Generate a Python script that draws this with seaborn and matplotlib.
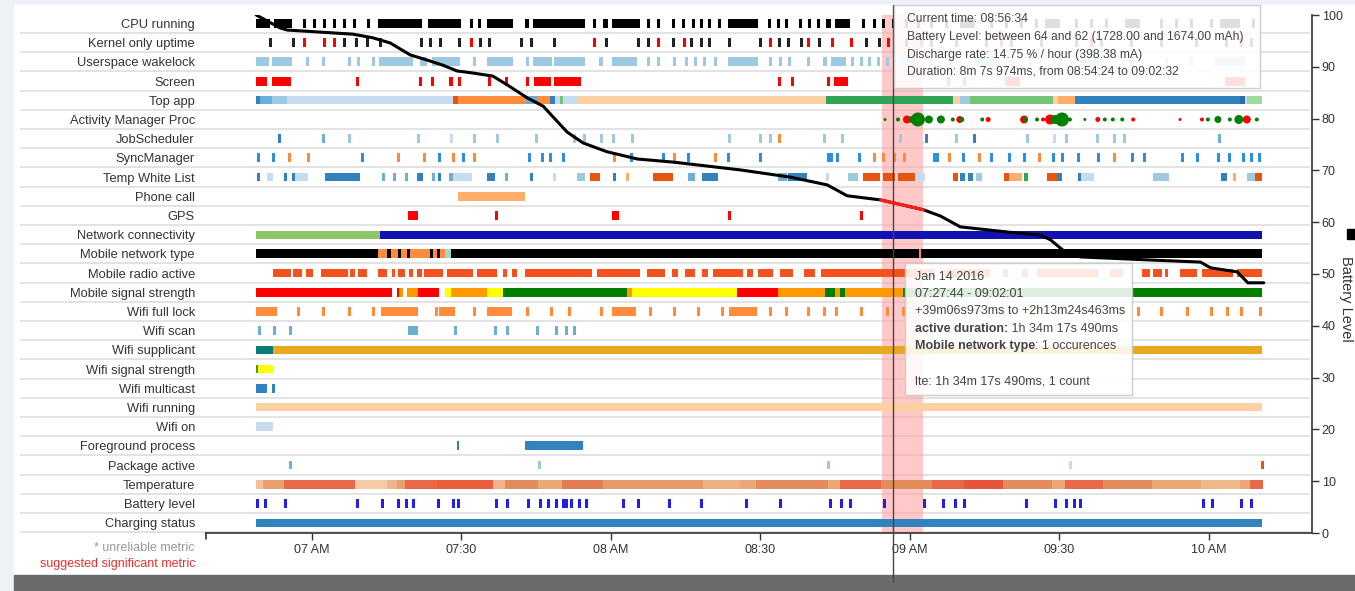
import numpy as np
import pandas as pd
import seaborn as sns
import matplotlib.pyplot as plt
from matplotlib.patches import Rectangle

W, H = 1355, 591
sns.set_style("white")
plt.rcParams["font.family"] = ["Liberation Sans", "DejaVu Sans"]

# all times are minutes after 07:00
row_labels = ["CPU running", "Kernel only uptime", "Userspace wakelock", "Screen", "Top app",
              "Activity Manager Proc", "JobScheduler", "SyncManager", "Temp White List", "Phone call",
              "GPS", "Network connectivity", "Mobile network type", "Mobile radio active",
              "Mobile signal strength", "Wifi full lock", "Wifi scan", "Wifi supplicant",
              "Wifi signal strength", "Wifi multicast", "Wifi running", "Wifi on",
              "Foreground process", "Package active", "Temperature", "Battery level", "Charging status"]
tick_times = [0, 30, 60, 90, 120, 150, 180]
tick_names = ["07 AM", "07:30", "08 AM", "08:30", "09 AM", "09:30", "10 AM"]
t_start, t_end = -11.2, 190.6

batt_t = [-11.2, -6.4, -5.0, 8.2, 12.2, 15.7, 19.7, 23.1, 26.3, 29.1, 32.3, 36.3, 39.2, 43.2,
          46.4, 48.4, 51.2, 54.4, 59.2, 65.3, 72.5, 85.9, 96.0, 103.4, 107.4, 114.1, 122.7,
          126.1, 130.1, 139.6, 146.2, 148.2, 151.2, 154.2, 168.3, 178.3, 180.3, 185.7, 187.8, 191.0]
batt_lvl = [100, 97.5, 97.1, 96.3, 95.6, 94.6, 92.3, 91.3, 90.3, 89.2, 88.8, 88.2, 86.5, 84.0,
            82.4, 80.3, 77.4, 75.3, 73.6, 72.2, 71.6, 70.1, 68.7, 67.2, 65.1, 64.3, 62.4,
            61.2, 59.1, 58.1, 57.5, 56.6, 54.2, 53.3, 52.7, 52.3, 51.2, 50.4, 48.3, 48.3]
sel_start, sel_end = 114.4, 122.53
cursor_t = 116.57

cpu_blocks = [(-11.2, -8.4), (-7.6, -4.0), (13.2, 22.1), (23.3, 29.9), (35.1, 40.3), (42.7, 43.5),
              (44.4, 54.8), (58.4, 59.4), (60.2, 65.8), (83.5, 89.5), (103.2, 104.2), (105.0, 108.0),
              (130.0, 133.1), (147.1, 150.1), (163.2, 166.2), (182.2, 186.2)]
cpu_ticks = [-1.8, 0.2, 2.2, 4.2, 6.2, 8.2, 11.0, 31.7, 33.3, 56.4, 67.2, 69.2, 72.2, 74.3, 76.3,
             77.9, 79.5, 81.5, 91.5, 93.3, 94.9, 97.7, 99.5, 101.3, 110.4, 112.6, 114.4, 116.4,
             119.0, 121.4, 124.0, 127.0, 136.1, 139.1, 142.1, 145.1, 153.1, 156.1, 159.1, 170.2,
             173.2, 176.2, 180.2, 188.6]
kernel_black = [-8.6, -4.0, 6.2, 8.6, 10.8, 13.4, 21.7, 23.5, 25.5, 29.3, 33.5, 35.3, 41.7, 43.7,
                48.4, 58.8, 65.2, 67.2, 72.2, 75.9, 77.9, 79.5, 83.5, 89.7, 93.5, 95.3, 97.9, 101.5,
                111.0, 113.6, 119.0, 124.0, 129.0, 135.1, 140.1, 146.1, 153.1, 158.1, 164.2, 170.2,
                177.2, 183.2, 188.2]
kernel_red = [-1.8, 2.2, 4.2, 31.7, 56.4, 69.2, 74.5, 91.7, 99.3, 104.2, 108.0, 115.4, 122.0,
              138.1, 156.1, 186.2]
wake_blocks = [(-11.2, -8.6), (-8.0, -4.0), (13.4, 20.3), (21.7, 23.1), (24.1, 29.7), (35.1, 40.3),
               (42.9, 43.5), (44.4, 48.2), (48.6, 54.8), (57.6, 58.4), (60.2, 65.2), (83.5, 89.5),
               (102.5, 103.4), (104.2, 107.2), (118.0, 121.0), (133.1, 138.1), (154.1, 158.1),
               (181.2, 187.2)]
wake_ticks = [-1.2, 2.0, 7.2, 9.0, 12.0, 32.3, 67.2, 69.2, 72.4, 74.9, 76.7, 78.5, 80.7, 91.7,
              93.7, 95.5, 99.3, 108.2, 110.0, 111.6, 113.4, 115.2, 124.0, 128.0, 144.1, 150.1,
              164.2, 171.2, 176.2]
screen_blocks = [(-11.2, -9.0), (-8.0, -4.2), (27.5, 28.3), (42.9, 43.5), (44.6, 48.0), (48.6, 54.0),
                 (104.8, 107.6), (139.1, 142.1), (183.2, 187.2)]
screen_ticks = [8.8, 21.5, 23.9, 29.3, 35.3, 38.7, 93.5, 96.1, 103.4, 127.4, 130.6]

topapp_spans = [(-11.2, -10.4), (-10.4, -8.0), (-8.0, -5.0), (-5.0, 28.3), (28.3, 29.3), (29.3, 42.9),
                (42.9, 45.4), (45.4, 47.8), (47.8, 48.8), (48.8, 49.8), (49.8, 50.4), (50.4, 53.2),
                (53.2, 103.2), (103.2, 128.6), (128.6, 130.0), (130.0, 132.0), (132.0, 148.7),
                (148.7, 149.7), (149.7, 153.1), (153.1, 186.2), (186.2, 187.2), (187.2, 187.6),
                (187.6, 190.6)]
topapp_colors = ["#3182bd", "#6baed6", "#9ecae1", "#c6dbef", "#e6550d", "#fd8d3c", "#6baed6",
                 "#fd8d3c", "#3182bd", "#c6dbef", "#74c476", "#c6dbef", "#fdd0a2", "#31a354",
                 "#fdd0a2", "#9ecae1", "#74c476", "#fdd0a2", "#fdae6b", "#3182bd", "#2b6fa8",
                 "#c6dbef", "#a1d99b"]

amp_t = [115.0, 117.6, 119.4, 120.4, 121.6, 123.8, 126.2, 128.6, 130.0, 130.4, 134.5, 135.7,
         142.9, 143.1, 145.5, 146.7, 148.1, 149.1, 150.5, 152.1, 155.1, 157.7, 159.1, 160.7,
         162.6, 164.8, 174.2, 178.6, 179.8, 181.8, 184.2, 186.0, 187.6, 189.6]
amp_kind = ["g", "g", "r", "g", "g", "g", "g", "g", "r", "g", "g", "r", "r", "g", "g", "r", "r",
            "g", "g", "g", "g", "r", "g", "g", "g", "r", "r", "r", "g", "g", "g", "g", "r", "g"]
amp_radius = [1.5, 2, 4, 3.5, 7, 4, 4, 2, 3.5, 2.5, 2, 2.5, 4, 2.5, 2, 2, 5, 4.5, 7, 2, 1.5,
              2.5, 2, 2, 2, 2, 1.5, 2, 2, 3.5, 2, 4.5, 4, 2]

job_times = [-6.8, 2.0, 7.2, 21.1, 27.7, 32.3, 36.9, 44.8, 52.4, 54.4, 57.8, 60.2, 64.0, 83.5,
             89.7, 91.7, 93.5, 102.5, 106.2, 117.8, 123.0, 129.0, 132.7, 143.3, 148.7, 151.1,
             157.3, 160.7, 162.8, 181.8]
job_colors = ["#3182bd", "#6baed6", "#9ecae1", "#9ecae1", "#c6dbef", "#9ecae1", "#9ecae1",
              "#9ecae1", "#9ecae1", "#9ecae1", "#9ecae1", "#9ecae1", "#9ecae1", "#9ecae1",
              "#9ecae1", "#9ecae1", "#fd8d3c", "#9ecae1", "#9ecae1", "#9ecae1", "#3182bd",
              "#9ecae1", "#3182bd", "#9ecae1", "#c6dbef", "#9ecae1", "#9ecae1", "#9ecae1",
              "#9ecae1", "#6baed6"]

sync_blue = [-11.0, -8.0, 9.8, 25.3, 30.1, 43.3, 46.0, 47.6, 50.2, 63.8, 70.2, 75.3, 83.3, 89.7,
             105.2, 109.6, 130.4, 136.1, 139.7, 142.7, 148.5, 150.3, 153.5, 157.5, 164.4, 166.8,
             174.4, 177.4, 181.6, 183.8, 186.6, 188.2, 189.8]
sync_blue_blocks = [(103.4, 104.6), (124.6, 125.8)]
sync_orange = [-4.8, -1.0, 17.1, 22.3, 28.1, 32.3, 60.4, 72.4, 80.7, 112.6, 114.4, 116.6, 118.6,
               127.6, 133.7, 145.7, 160.7]

twl_spans = [(-11.0, -10.4), (-9.0, -7.8), (-5.6, -5.0), (-4.0, -3.4), (-3.4, -0.8), (2.6, 9.6),
             (14.0, 14.6), (16.3, 16.9), (18.7, 19.3), (21.1, 22.3), (24.1, 24.7), (25.3, 25.9),
             (27.5, 28.3), (28.3, 32.1), (35.1, 36.7), (38.7, 39.3), (43.7, 44.3), (48.4, 49.0),
             (53.2, 54.8), (55.8, 57.8), (60.4, 61.0), (63.0, 63.6), (68.4, 72.4), (75.5, 76.9),
             (78.3, 81.5), (93.5, 95.3), (95.5, 99.3), (103.2, 103.8), (107.6, 109.6),
             (110.6, 114.0), (114.6, 117.0), (117.6, 121.0), (121.0, 123.0), (128.6, 129.6),
             (130.0, 131.0), (131.6, 132.6), (133.2, 134.4), (138.9, 139.9), (139.9, 142.5),
             (142.9, 143.7), (147.5, 149.5), (149.5, 150.5), (153.7, 154.3), (154.3, 157.0),
             (168.7, 171.9), (182.4, 183.6), (184.8, 185.4), (187.6, 189.2), (189.2, 190.6)]
twl_colors = ["#3182bd", "#c6dbef", "#3182bd", "#3182bd", "#c6dbef", "#3182bd", "#6baed6",
              "#6baed6", "#6baed6", "#3182bd", "#6baed6", "#3182bd", "#6baed6", "#c6dbef",
              "#3182bd", "#6baed6", "#3182bd", "#c6dbef", "#9ecae1", "#e6550d", "#3182bd",
              "#fdae6b", "#e6550d", "#6baed6", "#3182bd", "#6baed6", "#3182bd", "#c6dbef",
              "#9ecae1", "#e6550d", "#e6550d", "#e6550d", "#c6dbef", "#e6550d", "#3182bd",
              "#3182bd", "#9ecae1", "#e6550d", "#fdae6b", "#31a354", "#e6550d", "#3182bd",
              "#3182bd", "#c6dbef", "#9ecae1", "#3182bd", "#fdae6b", "#9ecae1", "#e6550d"]

phone_blocks = [(29.3, 42.7)]
gps_blocks = [(19.3, 21.3), (60.2, 61.6)]
gps_ticks = [36.7, 83.5, 110.0]

net_spans = [(-11.2, 13.6), (13.6, 190.6)]
net_colors = ["#8cc665", "#1212b0"]

mnt_spans = [(-11.2, 13.2), (13.2, 15.0), (15.0, 15.8), (15.8, 17.2), (17.2, 17.9), (17.9, 19.1),
             (19.1, 19.7), (19.7, 23.7), (23.7, 24.3), (24.3, 25.1), (25.1, 25.7), (25.7, 26.7),
             (26.7, 27.9), (27.9, 190.6), (121.8, 122.3)]
mnt_colors = ["black", "#fd8d3c", "black", "#fd8d3c", "black", "#fd8d3c", "black", "#fd8d3c",
              "black", "#fd8d3c", "black", "#fd8d3c", "#9fd8c8", "black", "#fd8d3c"]

radio_blocks = [(-7.8, -4.2), (-3.8, -2.0), (-1.2, 0.2), (1.8, 7.2), (7.6, 8.6), (9.2, 11.0),
                (13.2, 15.1), (16.1, 16.7), (17.3, 18.7), (19.5, 20.3), (21.1, 22.1), (22.5, 26.3),
                (27.1, 32.3), (33.1, 37.1), (38.3, 39.1), (40.1, 41.1), (42.7, 56.2), (57.2, 65.8),
                (67.2, 70.8), (72.2, 73.5), (74.9, 76.9), (78.3, 79.5), (80.5, 86.5), (87.3, 88.5),
                (89.5, 92.5), (93.9, 96.5), (98.7, 100.9), (102.2, 119.0), (119.0, 125.0),
                (127.0, 136.1), (138.7, 139.7), (142.5, 143.7), (145.5, 157.7), (160.1, 162.8),
                (166.6, 168.2), (168.8, 170.6), (171.2, 171.8), (174.2, 177.6), (178.6, 184.8),
                (185.6, 190.6)]

sig_spans = [(-11.2, 16.1), (17.1, 17.5), (17.5, 18.3), (19.1, 21.3), (21.3, 25.5), (26.7, 27.9),
             (27.9, 35.1), (35.1, 38.3), (38.3, 63.2), (63.2, 64.2), (64.2, 85.3), (85.3, 93.5),
             (93.5, 103.0), (103.0, 105.0), (105.0, 106.0), (106.0, 107.0), (107.0, 118.6),
             (118.6, 190.6)]
sig_colors = ["#ff0000", "#ff0000", "#ff9900", "#ff9900", "#ff0000", "#ffff00", "#ff9900", "#ffff00",
              "#008000", "#ff9900", "#ffff00", "#ff0000", "#ff9900", "#008000", "#ff9900", "#008000",
              "#ff9900", "#008000"]

wfl_blocks = [(-11.2, -7.0), (13.8, 21.3), (25.5, 28.7), (35.1, 40.1), (60.2, 65.0), (83.7, 89.3)]
wfl_ticks = [-3.0, 2.0, 7.2, 12.0, 24.7, 32.3, 42.9, 47.8, 51.4, 57.8, 67.6, 72.4, 77.3, 82.1,
             91.7, 94.9, 99.3, 102.5, 105.0, 110.0, 115.2, 118.4, 123.0, 128.0, 133.1, 138.1,
             144.1, 150.1, 156.1, 162.2, 165.6, 170.2, 175.4, 180.2, 183.4, 186.2, 190.0]
scan_blocks = [(19.3, 21.3)]
scan_ticks = [-10.8, -7.8, -4.6, 28.5, 36.5, 38.9, 44.9, 48.8, 50.8, 52.4]
supp_spans = [(-11.2, -7.8), (-7.8, 190.6)]
supp_colors = ["#0b7b73", "#e8a820"]
wsig_spans = [(-11.2, -10.8), (-10.8, -7.8)]
wsig_colors = ["#4a9a2a", "#ffff00"]
mcast_spans = [(-11.2, -9.0), (-8.0, -7.5)]
wrun_spans = [(-11.2, 190.6)]
won_spans = [(-11.2, -7.8)]
fg_spans = [(29.0, 29.5), (42.7, 54.4)]
pkg_times = [-4.6, 45.4, 103.4, 151.9, 190.4]
pkg_colors = ["#6baed6", "#9ecae1", "#9ecae1", "#c6dbef", "#e6550d"]

temp_spans = [(-11.2, -9.8), (-9.8, -5.6), (-5.6, 8.6), (8.6, 15.1), (15.1, 17.1), (17.1, 18.7),
              (18.7, 25.1), (25.1, 36.3), (36.3, 38.7), (38.7, 45.4), (45.4, 50.2), (50.2, 58.4),
              (58.4, 78.5), (78.5, 85.9), (85.9, 89.1), (89.1, 103.6), (103.6, 106.0), (106.0, 114.2),
              (114.2, 124.4), (124.4, 130.8), (130.8, 138.7), (138.7, 148.5), (148.5, 151.1),
              (151.1, 158.7), (158.7, 168.6), (168.6, 178.4), (178.4, 186.2), (186.2, 188.2),
              (188.2, 190.8)]
temp_colors = ["#f3c09a", "#e9a070", "#e8694a", "#f4cba5", "#eeb590", "#e9a071", "#e8694a",
               "#e85d3c", "#f0b48c", "#e38c5b", "#e9a874", "#e07b56", "#e49a6b", "#ebb283",
               "#eaa77a", "#e38c5b", "#eaa77a", "#e8694a", "#e38c5b", "#e8694a", "#e6553a",
               "#e38c5b", "#eaa77a", "#e8694a", "#e38c5b", "#e9a874", "#eeb98a", "#e9a874",
               "#e8694a"]
blevel_ticks = [-11.2, -9.6, -5.6, 8.8, 13.8, 17.1, 18.7, 20.1, 25.1, 28.1, 29.1, 36.7, 38.9, 43.1,
                45.6, 47.2, 48.8, 50.2, 50.8, 51.8, 53.4, 54.8, 62.2, 65.2, 71.4, 77.9, 86.9, 93.7,
                103.8, 106.0, 107.8, 114.6, 122.6, 126.4, 128.8, 130.6, 143.1, 148.9, 151.1, 152.7,
                153.9, 178.6, 180.4, 186.2, 188.2]
charge_spans = [(t_start, t_end)]

tip1 = ["Current time: 08:56:34",
        "Battery Level: between 64 and 62 (1728.00 and 1674.00 mAh)",
        "Discharge rate: 14.75 % / hour (398.38 mA)",
        "Duration: 8m 7s 974ms, from 08:54:24 to 09:02:32"]
tip2 = [("", "Jan 14 2016"), ("", "07:27:44 - 09:02:01"),
        ("", "+39m06s973ms to +2h13m24s463ms"),
        ("active duration:", " 1h 34m 17s 490ms"),
        ("Mobile network type", ": 1 occurences"),
        ("", ""), ("", "lte: 1h 34m 17s 490ms, 1 count")]


def fx(x):
    return x / W


def fy(y):
    return 1 - y / H


fig = plt.figure(figsize=(W / 100, H / 100), dpi=100, facecolor="#eef1f5")
fig.add_artist(Rectangle((fx(14), fy(575)), 1, 570 / H, color="white", zorder=-10))
fig.add_artist(Rectangle((fx(14), 0), 1, 16 / H, color="#6b6b6b", zorder=-10))

ax = fig.add_axes([fx(206), fy(533), (1312 - 206) / W, (533 - 15) / H])
ax.set_facecolor("none")

ax.hlines(np.arange(27) + 0.5, -58.6, 200.3, color="#dedede", lw=1.2, clip_on=False, zorder=0)
ax.axvspan(sel_start, sel_end, color="#ff9e9e", alpha=0.55, lw=0, zorder=0.5)


def ticks(times, w=0.6):
    return [(t, t + w) for t in times]


def draw(row, spans, colors, h=0.46):
    ax.broken_barh([(a, b - a) for a, b in spans], (row - h / 2, h),
                   facecolors=colors, linewidth=0, zorder=2)


draw(0, cpu_blocks + ticks(cpu_ticks), "black", 0.5)
draw(1, ticks(kernel_black), "#222222")
draw(1, ticks(kernel_red), "#ff0000")
draw(2, wake_blocks + ticks(wake_ticks), "#9ecae1")
draw(3, screen_blocks + ticks(screen_ticks), "#ff0000")
draw(4, topapp_spans, topapp_colors, 0.42)
draw(6, ticks(job_times), job_colors)
draw(7, ticks(sync_blue) + sync_blue_blocks, "#2e8fdd")
draw(7, ticks(sync_orange), "#fd8d3c")
draw(8, twl_spans, twl_colors)
draw(9, phone_blocks, "#fdae6b")
draw(10, gps_blocks + ticks(gps_ticks), "#ff0000")
draw(11, net_spans, net_colors, 0.42)
draw(12, mnt_spans, mnt_colors)
draw(13, radio_blocks, "#f4511e")
draw(14, sig_spans, sig_colors)
draw(15, wfl_blocks + ticks(wfl_ticks), "#fd8d3c")
draw(16, scan_blocks + ticks(scan_ticks), "#6baed6")
draw(17, supp_spans, supp_colors, 0.42)
draw(18, wsig_spans, wsig_colors)
draw(19, mcast_spans, "#3182bd")
draw(20, wrun_spans, "#fdd0a2", 0.42)
draw(21, won_spans, "#c6dbef")
draw(22, fg_spans, "#3182bd")
draw(23, ticks(pkg_times), pkg_colors)
draw(24, temp_spans, temp_colors)
draw(25, ticks(blevel_ticks), "#2020e6")
draw(26, charge_spans, "#3182bd", 0.42)

amp = pd.DataFrame({"t": amp_t, "kind": amp_kind, "r": amp_radius})
amp["row"] = 5
sns.scatterplot(data=amp, x="t", y="row", hue="kind", palette={"g": "#008000", "r": "#ff0000"},
                s=(2 * amp["r"] * 0.72) ** 2, linewidth=0, legend=False, ax=ax, zorder=3)

ax.axvline(cursor_t, ymin=-0.095, ymax=1.02, color="#444444", lw=1, clip_on=False, zorder=4)

ax.set_xlim(-21.27, 200.68)
ax.set_ylim(26.54, -0.443)
ax.set_xticks(tick_times, tick_names)
ax.set_yticks(range(len(row_labels)), row_labels)
ax.set_xlabel("")
ax.set_ylabel("")
ax.tick_params(axis="x", bottom=True, direction="out", length=5, color="#333333", width=1,
               labelsize=9, labelcolor="#333333", pad=3)
ax.tick_params(axis="y", left=False, length=0, labelsize=9.3, labelcolor="#333333", pad=8)
for s in ["top", "left", "right"]:
    ax.spines[s].set_visible(False)
ax.spines["bottom"].set_color("#333333")
ax.spines["bottom"].set_linewidth(1.2)
ax.plot([-21.27, -21.27], [26.54, 26.85], color="#333333", lw=1.2, clip_on=False)

ax2 = ax.twinx()
batt = pd.DataFrame({"t": batt_t, "level": batt_lvl})
sns.lineplot(data=batt, x="t", y="level", ax=ax2, color="black", lw=2.2,
             estimator=None, sort=False)
sel = batt[(batt.t >= 114) & (batt.t <= 123)]
sns.lineplot(data=sel, x="t", y="level", ax=ax2, color="#ff1a1a", lw=2.2,
             estimator=None, sort=False)
ax2.set_ylim(0, 100)
ax2.set_xlim(-21.27, 200.68)
ax2.set_yticks(range(0, 101, 10))
ax2.set_ylabel("")
ax2.set_xlabel("")
ax2.tick_params(axis="y", right=True, direction="out", length=5, color="#333333", width=1,
                labelsize=9, labelcolor="#333333", pad=2)
for s in ["top", "left", "bottom"]:
    ax2.spines[s].set_visible(False)
ax2.spines["right"].set_color("#333333")
ax2.spines["right"].set_linewidth(1.2)

fig.text(fx(1346), fy(299), "Battery Level", rotation=270, ha="center", va="center",
         fontsize=10.5, color="#333333")
fig.add_artist(Rectangle((fx(1347), fy(239)), 10 / W, 10 / H, color="black"))

fig.text(fx(195), fy(548), "* unreliable metric", ha="right", va="center", fontsize=9,
         color="#999999")
fig.text(fx(195), fy(564), "suggested significant metric", ha="right", va="center", fontsize=9,
         color="#e8312f")

# hover boxes
fig.add_artist(Rectangle((fx(894), fy(88)), 366 / W, 83 / H, facecolor="white", alpha=0.88,
                         edgecolor="#c8c8c8", lw=1, zorder=5))
for y, line in zip([19, 37, 55, 72], tip1):
    fig.text(fx(907), fy(y), line, ha="left", va="center", fontsize=8.7, color="#444444", zorder=6)

fig.add_artist(Rectangle((fx(905), fy(395)), 227 / W, 132 / H, facecolor="white", alpha=0.88,
                         edgecolor="#c8c8c8", lw=1, zorder=5))
rend = fig.canvas.get_renderer()
for y, (bold, rest) in zip([277, 294, 311, 329, 346, 363, 381], tip2):
    x0 = fx(915)
    if bold:
        t1 = fig.text(x0, fy(y), bold, ha="left", va="center", fontsize=9, weight="bold",
                      color="#444444", zorder=6)
        x0 = t1.get_window_extent(renderer=rend).x1 / W
    fig.text(x0, fy(y), rest, ha="left", va="center", fontsize=9, color="#444444", zorder=6)

fig.savefig("out.png", dpi=100, facecolor=fig.get_facecolor())
